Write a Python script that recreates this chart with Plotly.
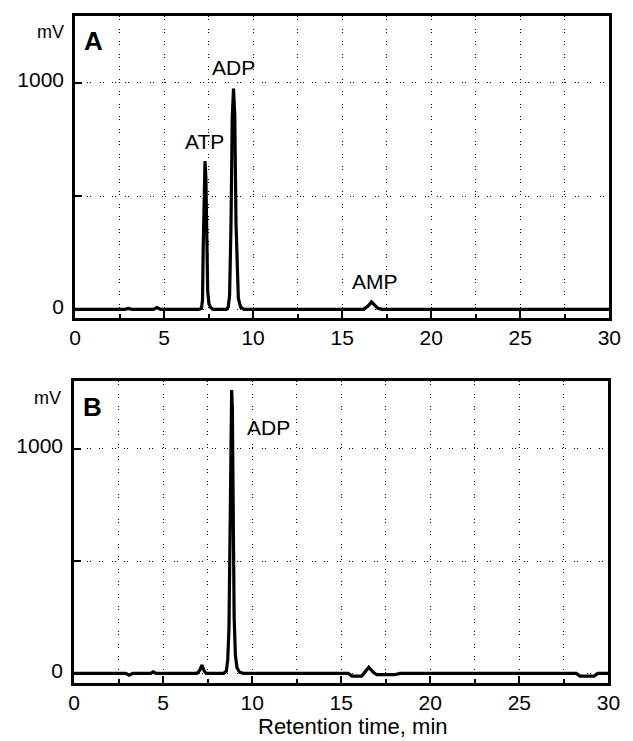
import plotly.graph_objects as go

# ---- data ----
time_a = [0, 2.8, 3.0, 3.2, 4.4, 4.6, 4.8, 6.95, 7.1, 7.16, 7.2, 7.25, 7.30, 7.35, 7.40, 7.45, 7.52, 7.62, 7.75,
          8.5, 8.6, 8.68, 8.76, 8.83, 8.9, 8.97, 9.04, 9.1, 9.17, 9.3, 9.5,
          16.2, 16.45, 16.65, 16.8, 17.0, 17.25, 30]
signal_a = [0, 0, 4, 0, 0, 8, 0, 0, 5, 40, 280, 580, 655, 580, 280, 80, 25, 8, 0,
            0, 10, 60, 380, 850, 975, 860, 380, 150, 50, 10, 0,
            0, 15, 33, 20, 5, 0, 0]

time_b = [0, 2.9, 3.1, 3.3, 4.3, 4.45, 4.6, 6.9, 7.05, 7.18, 7.3, 7.42,
          8.4, 8.55, 8.63, 8.7, 8.76, 8.81, 8.85, 8.89, 8.94, 8.99, 9.06, 9.15, 9.3, 9.5,
          15.4, 15.6, 16.15, 16.35, 16.55, 16.8, 17.0, 18.0, 18.3,
          28.2, 28.4, 29.2, 29.4, 30]
signal_b = [0, 0, -8, 0, 0, 7, 0, 0, 12, 37, 12, 0,
            0, 10, 60, 200, 620, 1180, 1263, 1180, 640, 250, 80, 25, 5, 0,
            0, -12, -12, 5, 27, 5, -6, -6, 0,
            0, -12, -12, 0, 0]

x_tickvals = [0, 5, 10, 15, 20, 25, 30]
x_ticktext = ["0", "5", "10", "15", "20", "25", "30"]
y_tickvals = [0, 500, 1000]
y_ticktext = ["0", "", "1000"]

peaks_a = [("ATP", 7.29, 743), ("ADP", 8.89, 1069), ("AMP", 16.86, 125)]
peaks_b = [("ADP", 10.91, 1096)]

FONT = "Arial, Liberation Sans, sans-serif"
GRID_DASH = "1px,2px,1px,8.5px"

fig = go.Figure()
fig.add_trace(go.Scatter(x=time_a, y=signal_a, mode="lines", line=dict(color="black", width=3.2),
                         xaxis="x", yaxis="y", showlegend=False))
fig.add_trace(go.Scatter(x=time_b, y=signal_b, mode="lines", line=dict(color="black", width=3.2),
                         xaxis="x2", yaxis="y2", showlegend=False))

def xaxis_cfg(domain, anchor):
    return dict(domain=domain, anchor=anchor, range=[0, 30], tickmode="array",
                tickvals=x_tickvals, ticktext=x_ticktext, ticks="inside", ticklen=7, tickwidth=2,
                tickcolor="black", showline=True, linecolor="black", linewidth=2.5, mirror=True,
                showgrid=True, gridcolor="black", gridwidth=1.2, griddash=GRID_DASH, zeroline=False,
                tickfont=dict(family=FONT, size=21, color="black"), ticklabelstandoff=-1,
                minor=dict(dtick=2.5, tick0=0, ticks="inside", ticklen=4, tickwidth=2, tickcolor="black",
                           showgrid=True, gridcolor="black", gridwidth=1.2, griddash=GRID_DASH))

def yaxis_cfg(domain, anchor, rng):
    return dict(domain=domain, anchor=anchor, range=rng, tickmode="array",
                tickvals=y_tickvals, ticktext=y_ticktext, ticks="inside", ticklen=7, tickwidth=2,
                tickcolor="black", showline=True, linecolor="black", linewidth=2.5, mirror=True,
                showgrid=True, gridcolor="black", gridwidth=1.2, griddash=GRID_DASH, zeroline=False,
                tickfont=dict(family=FONT, size=21, color="black"), ticklabelstandoff=4,
                ticklabelshift=-3)

W, H = 633, 741
fig.update_layout(
    width=W, height=H, margin=dict(l=0, r=0, t=0, b=0),
    paper_bgcolor="white", plot_bgcolor="white", showlegend=False,
    xaxis=xaxis_cfg([71 / W, 621 / W], "y"),
    yaxis=yaxis_cfg([1 - 318 / H, 1 - 16 / H], "x", [-38, 1295]),
    xaxis2=xaxis_cfg([70 / W, 620 / W], "y2"),
    yaxis2=yaxis_cfg([1 - 683 / H, 1 - 381 / H], "x2", [-43, 1303]),
)

def txt(text, x, y, xref, yref, size):
    return dict(text=text, x=x, y=y, xref=xref, yref=yref, showarrow=False,
                xanchor="center", yanchor="middle",
                font=dict(family=FONT, size=size, color="black"))

ann = []
for name, x, y in peaks_a:
    ann.append(txt(name, x, y, "x", "y", 21))
for name, x, y in peaks_b:
    ann.append(txt(name, x, y, "x2", "y2", 21))
ann.append(txt("<b>A</b>", 1.02, 1184, "x", "y", 26))
ann.append(txt("<b>B</b>", 1.04, 1187, "x2", "y2", 26))
ann.append(txt("mV", 46 / W, 1 - 32 / H, "paper", "paper", 18))
ann.append(txt("mV", 43 / W, 1 - 398 / H, "paper", "paper", 18))
ann.append(txt("Retention time, min", 357 / W, 1 - 726 / H, "paper", "paper", 22))
fig.update_layout(annotations=ann)

fig.write_html("out.html")
